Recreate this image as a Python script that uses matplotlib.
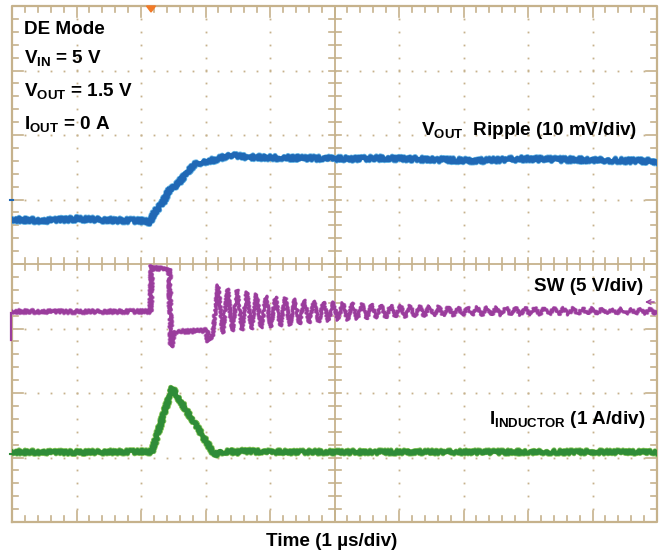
import numpy as np
import matplotlib
matplotlib.use("Agg")
import matplotlib.pyplot as plt
from matplotlib.patches import Polygon

plt.rcParams['font.family'] = ['Liberation Sans', 'DejaVu Sans']
plt.rcParams['mathtext.fontset'] = 'custom'
plt.rcParams['mathtext.bf'] = 'Liberation Sans:bold'
plt.rcParams['mathtext.rm'] = 'Liberation Sans:bold'
plt.rcParams['mathtext.it'] = 'Liberation Sans:bold'

# ---------------- data (time in µs) ----------------
# VOUT ripple (mV), 10 mV/div
vout_t = [0.0, 0.5, 1.0, 1.5, 2.0, 2.14, 2.22, 2.34, 2.42, 2.56, 2.68, 2.81, 2.95,
          3.12, 3.38, 3.58, 4.0, 4.6, 5.2, 5.8, 6.5, 7.2, 7.9, 8.5, 9.2, 10.0]
vout_mv = [-3.1, -3.3, -3.0, -3.2, -3.3, -3.5, -1.9, -0.5, 1.2, 2.3, 3.8, 5.3, 5.8,
           6.1, 6.9, 6.6, 6.5, 6.4, 6.3, 6.4, 6.2, 6.0, 6.3, 6.2, 6.1, 5.9]

# SW node (V), 5 V/div : pulse part
sw_t = [0.0, 1.0, 2.15, 2.165, 2.19, 2.30, 2.44, 2.455, 2.47, 2.51, 2.80, 3.02, 3.04, 3.11]
sw_v = [1.32, 1.30, 1.32, 4.85, 4.70, 4.65, 4.62, 1.00, -1.40, -0.25, -0.20, -0.15, -1.00, -0.60]
# SW ringing: peaks and troughs
ring_peak_t = [3.194, 3.343, 3.491, 3.640, 3.789, 3.938, 4.087, 4.236, 4.384, 4.533,
               4.682, 4.831, 4.980, 5.129, 5.277, 5.426, 5.575, 5.724, 5.873, 6.022,
               6.171, 6.319, 6.468, 6.617, 6.766, 6.915, 7.064, 7.212, 7.361, 7.510,
               7.659, 7.808, 7.957, 8.105, 8.254, 8.403, 8.552, 8.701, 8.850, 8.998,
               9.147, 9.296, 9.445, 9.594, 9.743, 9.891]
ring_peak_v = [3.37, 3.06, 2.98, 2.83, 2.67, 2.52, 2.44, 2.36, 2.29, 2.21,
               2.13, 2.05, 2.05, 1.98, 1.98, 1.90, 1.90, 1.82, 1.82, 1.78,
               1.76, 1.74, 1.72, 1.70, 1.68, 1.67, 1.66, 1.66, 1.65, 1.64,
               1.63, 1.62, 1.62, 1.61, 1.60, 1.59, 1.58, 1.58, 1.57, 1.57,
               1.55, 1.54, 1.54, 1.53, 1.52, 1.51]
ring_trough_t = [3.268, 3.417, 3.565, 3.714, 3.863, 4.012, 4.161, 4.310, 4.458, 4.607,
                 4.756, 4.905, 5.054, 5.203, 5.351, 5.500, 5.649, 5.798, 5.947, 6.096,
                 6.245, 6.393, 6.542, 6.691, 6.840, 6.989, 7.138, 7.286, 7.435, 7.584,
                 7.733, 7.882, 8.031, 8.179, 8.328, 8.477, 8.626, 8.775, 8.924, 9.072,
                 9.221, 9.370, 9.519, 9.668, 9.817, 9.965]
ring_trough_v = [-0.35, -0.19, -0.12, -0.04, 0.04, 0.12, 0.19, 0.27, 0.35, 0.43,
                 0.50, 0.58, 0.66, 0.66, 0.74, 0.74, 0.81, 0.81, 0.89, 0.89,
                 0.92, 0.94, 0.96, 0.98, 1.00, 1.01, 1.02, 1.03, 1.04, 1.04,
                 1.05, 1.06, 1.06, 1.07, 1.08, 1.09, 1.10, 1.10, 1.11, 1.11,
                 1.12, 1.13, 1.13, 1.14, 1.15, 1.16]
sw_end_t = [10.0]
sw_end_v = [1.35]

# Inductor current (A), 1 A/div
il_t = [0.0, 1.0, 2.0, 2.17, 2.48, 3.15, 3.22, 3.30, 3.38, 3.46, 3.55, 4.0, 6.0, 8.0, 10.0]
il_a = [0.085, 0.08, 0.09, 0.085, 1.08, 0.03, 0.11, 0.06, 0.11, 0.07, 0.10, 0.085, 0.085, 0.085, 0.085]

# channel settings: units-per-div and ground position (divisions from centre)
ch_scale = {'vout': 10.0, 'sw': 5.0, 'il': 1.0}
ch_offset = {'vout': 1.0, 'sw': -1.0, 'il': -3.0}

# ---------------- figure ----------------
W, H = 661, 556
fig = plt.figure(figsize=(W / 100, H / 100), dpi=100)
fig.patch.set_facecolor('white')
L, R, T, B = 12, 657, 6, 522
ax = fig.add_axes([L / W, (H - B) / H, (R - L) / W, (B - T) / H])
ax.set_xlim(0, 10)
ax.set_ylim(-4, 4)
ax.axis('off')
PX = (R - L) / 10.0  # pixels per division

grid_c = '#c6b28c'

# dotted graticule
for xi in range(1, 10):
    if xi == 5:
        continue
    ys = np.arange(-3.8, 3.81, 0.2)
    ax.plot(np.full_like(ys, xi), ys, ls='none', marker='s', ms=1.3, mec='none', mfc=grid_c, zorder=1)
for yi in range(-3, 4):
    if yi == 0:
        continue
    xs = np.arange(0.2, 9.81, 0.2)
    ax.plot(xs, np.full_like(xs, yi), ls='none', marker='s', ms=1.3, mec='none', mfc=grid_c, zorder=1)

# border and centre lines
ax.plot([0, 10, 10, 0, 0], [-4, -4, 4, 4, -4], color=grid_c, lw=1.6, clip_on=False, zorder=2)
ax.plot([5, 5], [-4, 4], color=grid_c, lw=1.3, zorder=2)
ax.plot([0, 10], [0, 0], color=grid_c, lw=1.3, zorder=2)

minor_len = 6 / PX
major_len = 11 / PX
for i in range(1, 50):
    x = i * 0.2
    ln = major_len if i % 5 == 0 else minor_len
    ax.plot([x, x], [4, 4 - ln], color=grid_c, lw=1.2, zorder=2)
    ax.plot([x, x], [-4, -4 + ln], color=grid_c, lw=1.2, zorder=2)
    ax.plot([x, x], [-minor_len, minor_len], color=grid_c, lw=1.2, zorder=2)
for j in range(1, 40):
    y = -4 + j * 0.2
    ln = major_len if j % 5 == 0 else minor_len
    ax.plot([0, ln], [y, y], color=grid_c, lw=1.2, zorder=2)
    ax.plot([10, 10 - ln], [y, y], color=grid_c, lw=1.2, zorder=2)
    ax.plot([5 - minor_len, 5 + minor_len], [y, y], color=grid_c, lw=1.2, zorder=2)


def trace(t, v, ch, core, halo, lw_core, lw_halo, jitter):
    y = ch_offset[ch] + np.asarray(v, dtype=float) / ch_scale[ch]
    h, = ax.plot(t, y, color=halo, lw=lw_halo, solid_joinstyle='round', zorder=3)
    h.set_sketch_params(scale=jitter * 1.3, length=2.0, randomness=3.0)
    c, = ax.plot(t, y, color=core, lw=lw_core, solid_joinstyle='round', zorder=4)
    c.set_sketch_params(scale=jitter, length=2.0, randomness=3.0)


# assemble SW ringing from interleaved peaks / troughs
ring_t = np.ravel(np.column_stack([ring_peak_t, ring_trough_t]))
ring_v = np.ravel(np.column_stack([ring_peak_v, ring_trough_v]))
ring_all_t = np.concatenate([sw_t[-1:], ring_t, sw_end_t])
ring_all_v = np.concatenate([sw_v[-1:], ring_v, sw_end_v])

trace(vout_t, vout_mv, 'vout', '#2068b5', '#6ab8e6', 3.4, 3.9, 1.8)
trace(sw_t, sw_v, 'sw', '#9a3d9c', '#c98bcb', 2.4, 2.9, 1.4)
trace(ring_all_t, ring_all_v, 'sw', '#9a3d9c', '#c98bcb', 1.9, 2.4, 1.1)
trace(il_t, il_a, 'il', '#2f8c38', '#8cc85e', 3.2, 3.8, 1.6)

# ground markers on left edge
ax.plot([-0.03, 0.02], [1.0, 1.0], color='#2068b5', lw=1.5, clip_on=False, zorder=5)
ax.plot([-0.02, -0.02], [-0.76, -1.18], color='#9a3d9c', lw=1.6, clip_on=False, zorder=5)
ax.plot([-0.03, 0.02], [-2.95, -2.95], color='#2f8c38', lw=1.5, clip_on=False, zorder=5)

# trigger marker
tx = (151 - L) / PX
ax.add_patch(Polygon([[tx - 4.5 / PX, 4.0], [tx + 4.5 / PX, 4.0], [tx, 4.0 - 6 / PX]],
                     closed=True, color='#f27a28', clip_on=False, zorder=6))
# trigger level arrow at right
ay = (264 - 302) / PX
ax.annotate('', xy=(9.77, ay), xytext=(10.0, ay),
            arrowprops=dict(arrowstyle='->', color='#9a3d9c', lw=1.0, mutation_scale=8),
            annotation_clip=False, zorder=6)

# ---------------- text ----------------
fs = 13.6


def ftext(x, y, s, ha='left'):
    fig.text(x / W, 1 - y / H, s, ha=ha, va='baseline', fontsize=fs,
             fontweight='bold', color='black')


ftext(24, 34, 'DE Mode')
ftext(24, 63, r'$\mathbf{V_{IN}}$ = 5 V')
ftext(24, 96, r'$\mathbf{V_{OUT}}$ = 1.5 V')
ftext(24, 129, r'$\mathbf{I_{OUT}}$ = 0 A')
ftext(637, 135, r'$\mathbf{V_{OUT}}$  Ripple (10 mV/div)', ha='right')
ftext(643, 291, 'SW (5 V/div)', ha='right')
ftext(645, 424, r'$\mathbf{I_{INDUCTOR}}$ (1 A/div)', ha='right')
ftext(332, 546, 'Time (1 µs/div)', ha='center')

fig.savefig('out.png', dpi=100, facecolor='white')
